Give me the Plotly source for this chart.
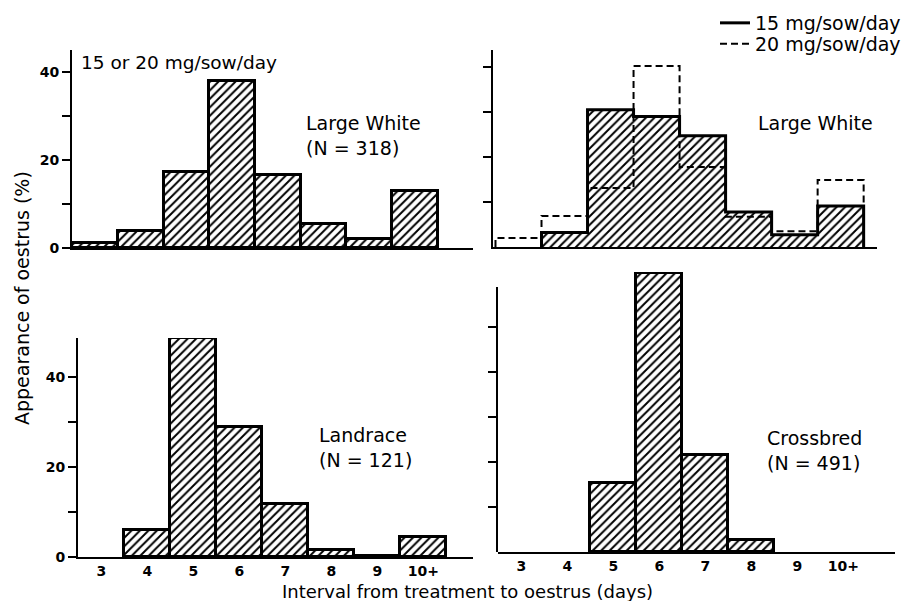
import plotly.graph_objects as go

# ---------------- data ----------------
days = [3, 4, 5, 6, 7, 8, 9, 10]
day_labels = ["3", "4", "5", "6", "7", "8", "9", "10+"]

large_white_all = [1.2, 3.9, 17.3, 38.0, 16.6, 5.5, 2.0, 13.0]      # 15 or 20 mg/sow/day
large_white_15 = [None, 3.2, 30.5, 29.0, 24.7, 7.8, 2.7, 9.1]       # 15 mg/sow/day
large_white_20 = [2.0, 6.9, 13.1, 40.2, 17.8, 6.7, 3.5, 14.9]       # 20 mg/sow/day
landrace = [None, 6.0, 48.7, 29.0, 11.8, 1.5, 0.3, 4.5]
crossbred = [None, None, 15.3, 62.0, 21.6, 2.7, None, None]

W, H = 907, 601
FONT = "DejaVu Sans"


def dx(a, b):
    return [a / W, b / W]


def dy(top, bottom):
    return [1 - bottom / H, 1 - top / H]


def step_outline(cats, vals):
    pairs = [(c, v) for c, v in zip(cats, vals) if v]
    xs = [pairs[0][0] - 0.5] + [c - 0.5 for c, _ in pairs] + [pairs[-1][0] + 0.5] * 2
    ys = [0] + [v for _, v in pairs] + [pairs[-1][1], 0]
    return xs, ys


hatch = dict(shape="/", fgcolor="black", bgcolor="white", size=6, solidity=0.33, fgopacity=1)


def hatched_bars(vals, xa, ya, outline=3):
    return go.Bar(
        x=days, y=vals, xaxis=xa, yaxis=ya, width=1,
        marker=dict(color="white", line=dict(color="black", width=outline), pattern=hatch),
        showlegend=False, hoverinfo="skip",
    )


fig = go.Figure()

# top-left
fig.add_trace(hatched_bars(large_white_all, "x", "y"))
# top-right
fig.add_trace(hatched_bars(large_white_15, "x2", "y2", outline=0))
sx20, sy20 = step_outline(days, large_white_20)
fig.add_trace(go.Scatter(
    x=sx20, y=sy20, xaxis="x2", yaxis="y2", mode="lines", line_shape="hv",
    line=dict(color="black", width=2, dash="7px,4px"),
    name="20 mg/sow/day", legend="legend2", hoverinfo="skip",
))
sx15, sy15 = step_outline(days, large_white_15)
fig.add_trace(go.Scatter(
    x=sx15, y=sy15, xaxis="x2", yaxis="y2", mode="lines", line_shape="hv",
    line=dict(color="black", width=3),
    name="15 mg/sow/day", legend="legend", hoverinfo="skip",
))
# bottom-left
fig.add_trace(hatched_bars(landrace, "x3", "y3"))
# bottom-right
fig.add_trace(hatched_bars(crossbred, "x4", "y4"))
fig.add_trace(go.Scatter(x=[], y=[], xaxis="x4", yaxis="y5", showlegend=False, hoverinfo="skip"))

tickfont = dict(family=FONT, size=14, color="black", weight="bold")
xbase = dict(showline=True, linewidth=2, linecolor="black", showgrid=False, zeroline=False,
             ticks="", automargin=False, fixedrange=True)
ybase = dict(showline=True, linewidth=2, linecolor="black", showgrid=False, zeroline=False,
             ticks="outside", ticklen=8, tickwidth=1.5, tickcolor="black",
             tickfont=tickfont, automargin=False, fixedrange=True)
legfont = dict(family=FONT, size=19, color="black")

fig.update_layout(
    width=W, height=H,
    margin=dict(l=0, r=0, t=0, b=0),
    paper_bgcolor="white", plot_bgcolor="rgba(0,0,0,0)",
    bargap=0,
    font=dict(family=FONT, color="black", size=18),
    xaxis=dict(xbase, domain=dx(72, 473), range=[2.497, 11.27], anchor="y", showticklabels=False),
    yaxis=dict(ybase, domain=dy(50, 248), range=[0, 45], anchor="x",
               tickvals=[0, 10, 20, 30, 40], ticktext=["0", "", "20", "", "40"]),
    xaxis2=dict(xbase, domain=dx(493, 877), range=[2.446, 10.79], anchor="y2", showticklabels=False),
    yaxis2=dict(ybase, domain=dy(50, 247), range=[0, 43.78], anchor="x2",
                tickvals=[10, 20, 30, 40], showticklabels=False),
    xaxis3=dict(xbase, domain=dx(78, 473), range=[2.49, 11.08], anchor="y3",
                tickvals=days, ticktext=day_labels, tickfont=tickfont),
    yaxis3=dict(ybase, domain=dy(338, 557), range=[0, 48.67], anchor="x3",
                tickvals=[0, 10, 20, 30, 40], ticktext=["0", "", "20", "", "40"]),
    xaxis4=dict(xbase, domain=dx(498, 895), range=[2.49, 11.12], anchor="y4",
                tickvals=days, ticktext=day_labels, tickfont=tickfont),
    yaxis4=dict(domain=dy(272, 552), range=[0, 62.22], anchor="x4", visible=False, fixedrange=True),
    yaxis5=dict(ybase, domain=dy(287, 552), range=[0, 58.89], anchor="x4",
                tickvals=[10, 20, 30, 40, 50], showticklabels=False),
    legend=dict(x=715 / W, y=1 - 4 / H, xanchor="left", yanchor="top",
                bgcolor="rgba(0,0,0,0)", borderwidth=0, font=legfont),
    legend2=dict(x=715 / W, y=1 - 25 / H, xanchor="left", yanchor="top",
                 bgcolor="rgba(0,0,0,0)", borderwidth=0, font=legfont),
)


def note(text, x, y, size=19, **kw):
    fig.add_annotation(text=text, x=x / W, y=1 - y / H, xref="paper", yref="paper",
                       showarrow=False, xanchor="left", yanchor="middle", align="left",
                       font=dict(family=FONT, size=size, color="black"), **kw)


note("15 or 20 mg/sow/day", 79, 62, size=18.5)
note("Large White<br>(N = 318)", 304, 135)
note("Large White", 756, 123)
note("Landrace<br>(N = 121)", 317, 447)
note("Crossbred<br>(N = 491)", 765, 450)

fig.add_annotation(text="Appearance of oestrus (%)", x=22 / W, y=1 - 298 / H,
                   xref="paper", yref="paper", showarrow=False, textangle=-90,
                   xanchor="center", yanchor="middle",
                   font=dict(family=FONT, size=19, color="black"))
fig.add_annotation(text="Interval from treatment to oestrus (days)", x=467 / W, y=1 - 591 / H,
                   xref="paper", yref="paper", showarrow=False,
                   xanchor="center", yanchor="middle",
                   font=dict(family=FONT, size=18, color="black"))

fig.write_html(
    "out.html",
    config={"displayModeBar": False},
    post_script="document.body.style.margin='0px';document.body.style.overflow='hidden';",
)
